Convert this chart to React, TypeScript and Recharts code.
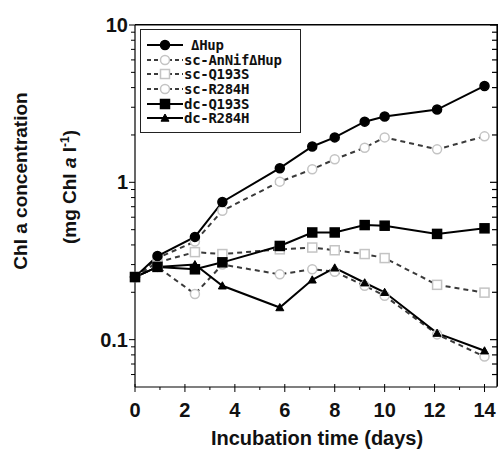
import React from 'react'
import { LineChart, Line, XAxis, YAxis, Label, ReferenceLine } from 'recharts'

// incubation days (x) and Chl a readings (mg Chl a / l) per strain
const days = [0, 0.9, 2.4, 3.5, 5.8, 7.1, 8, 9.2, 10, 12.1, 14]
const hup = [0.25, 0.34, 0.45, 0.75, 1.23, 1.69, 1.93, 2.43, 2.62, 2.9, 4.1]
const scAnNifHup = [0.25, 0.33, 0.42, 0.66, 1.01, 1.21, 1.4, 1.66, 1.93, 1.62, 1.96]
const scQ193S = [0.25, 0.31, 0.36, 0.35, 0.375, 0.385, 0.37, 0.35, 0.33, 0.223, 0.199]
const scR284H = [0.25, 0.29, 0.195, 0.3, 0.26, 0.28, 0.27, 0.22, 0.19, 0.108, 0.078]
const dcQ193S = [0.25, 0.29, 0.28, 0.31, 0.394, 0.48, 0.48, 0.535, 0.53, 0.47, 0.51]
const dcR284H = [0.25, 0.29, 0.3, 0.22, 0.16, 0.24, 0.286, 0.23, 0.2, 0.11, 0.085]

const xTicks = [0, 1, 2, 3, 4, 5, 6, 7, 8, 9, 10, 11, 12, 13, 14]
const xLabels = [0, 2, 4, 6, 8, 10, 12, 14]
const yTicks = [0.06, 0.07, 0.08, 0.09, 0.1, 0.2, 0.3, 0.4, 0.5, 0.6, 0.7, 0.8, 0.9, 1, 2, 3, 4, 5, 6, 7, 8, 9, 10]
const yLabels = [0.1, 1, 10]
const X_MAX = 14.5
const Y_MIN = 0.05
const Y_MAX = 10

type Shape = 'circle' | 'square' | 'triangle'

interface SeriesDef {
  key: string
  name: string
  values: number[]
  shape: Shape
  filled: boolean
  dashed: boolean
}

const series: SeriesDef[] = [
  { key: 'scR', name: 'sc-R284H', values: scR284H, shape: 'circle', filled: false, dashed: true },
  { key: 'scQ', name: 'sc-Q193S', values: scQ193S, shape: 'square', filled: false, dashed: true },
  { key: 'scA', name: 'sc-AnNif\u0394Hup', values: scAnNifHup, shape: 'circle', filled: false, dashed: true },
  { key: 'dcR', name: 'dc-R284H', values: dcR284H, shape: 'triangle', filled: true, dashed: false },
  { key: 'dcQ', name: 'dc-Q193S', values: dcQ193S, shape: 'square', filled: true, dashed: false },
  { key: 'hup', name: '\u0394Hup', values: hup, shape: 'circle', filled: true, dashed: false },
]
const legendOrder = ['hup', 'scA', 'scQ', 'scR', 'dcQ', 'dcR']

const data = days.map((d, i) => {
  const row: Record<string, number> = { day: d }
  series.forEach((s) => { row[s.key] = s.values[i] })
  return row
})

const LIGHT = '#c4c4c4'
const DASH = '#3a3a3a'
const PLOT = { left: 135, top: 25, right: 497, bottom: 387 }

const Marker = ({ cx, cy, shape, filled }: { cx: number; cy: number; shape: Shape; filled: boolean }) => {
  const fill = filled ? '#000' : '#fff'
  const stroke = filled ? '#000' : LIGHT
  if (shape === 'square') {
    const s = 4.5
    return <rect x={cx - s} y={cy - s} width={s * 2} height={s * 2} fill={fill} stroke={stroke} strokeWidth={1.5} />
  }
  if (shape === 'triangle') {
    const s = 4
    return <polygon points={`${cx},${cy - s} ${cx - s},${cy + s * 0.8} ${cx + s},${cy + s * 0.8}`} fill={fill} stroke={stroke} strokeWidth={1} />
  }
  return <circle cx={cx} cy={cy} r={4.5} fill={fill} stroke={stroke} strokeWidth={1.5} />
}

const makeDot = (s: SeriesDef) => (props: any) => (
  <Marker key={`${s.key}-${props.index}`} cx={props.cx} cy={props.cy} shape={s.shape} filled={s.filled} />
)

const tickFont = { fontFamily: 'Liberation Sans, Arial, sans-serif', fontWeight: 700, fontSize: 20, fill: '#111' }

// left ticks + labels, and the inward ticks on the right frame at the same heights
const LeftTick = (props: any) => {
  const { x, y, payload } = props
  const major = yLabels.includes(payload.value)
  const len = major ? 6 : 4
  return (
    <g>
      <line x1={x} x2={x - len} y1={y} y2={y} stroke='#000' strokeWidth={1} />
      <line x1={PLOT.right} x2={PLOT.right - len - 1} y1={y} y2={y} stroke='#000' strokeWidth={1.2} />
      {major && (
        <text x={x - 7} y={y + 7} textAnchor='end' {...tickFont}>{payload.value}</text>
      )}
    </g>
  )
}

const BottomTick = (props: any) => {
  const { x, y, payload } = props
  const major = xLabels.includes(payload.value)
  return (
    <g>
      <line x1={x} x2={x} y1={y - (major ? 3 : 0)} y2={y + (major ? 5 : 3)} stroke='#000' strokeWidth={1} />
      {major && (
        <text x={x} y={y + 30} textAnchor='middle' {...tickFont}>{payload.value}</text>
      )}
    </g>
  )
}

const YTitle = () => {
  const f = { fontFamily: 'Liberation Sans, Arial, sans-serif', fontWeight: 700, fontSize: 19, fill: '#111' }
  return (
    <g>
      <text transform='translate(27,181) rotate(-90)' textAnchor='middle' {...f}>Chl a concentration</text>
      <text transform='translate(76,187) rotate(-90)' textAnchor='middle' {...f}>
        (mg Chl <tspan fontStyle='italic'>a</tspan> l<tspan dy={-7} fontSize={12}>-1</tspan><tspan dy={7}>)</tspan>
      </text>
    </g>
  )
}

const LegendBox = () => (
  <div style={{ position: 'absolute', left: 140, top: 29, boxSizing: 'border-box', width: 161, height: 104, border: '1.5px solid #222', background: '#fff', padding: '8px 0 0 6px' }}>
    {legendOrder.map((k) => {
      const s = series.find((x) => x.key === k)!
      return (
        <div key={k} style={{ display: 'flex', alignItems: 'center', height: 14.6, overflow: 'visible' }}>
          <svg width={36} height={14} style={{ flex: 'none' }}>
            <line x1={0} x2={36} y1={7} y2={7} stroke={s.dashed ? DASH : '#000'} strokeWidth={2} strokeDasharray={s.dashed ? '4 3' : undefined} />
            <Marker cx={18} cy={7} shape={s.shape} filled={s.filled} />
          </svg>
          <span style={{ fontFamily: 'DejaVu Sans Mono, monospace', fontSize: 14, fontWeight: 700, color: '#111', marginLeft: k === 'hup' ? 8 : 1, lineHeight: '14px', whiteSpace: 'nowrap', letterSpacing: -0.3 }}>
            {s.name}
          </span>
        </div>
      )
    })}
  </div>
)

// top and right edges of the plot frame
const Frame = () => (
  <div style={{
    position: 'absolute', left: PLOT.left, top: PLOT.top - 1, width: PLOT.right - PLOT.left + 1,
    height: PLOT.bottom - PLOT.top, boxSizing: 'border-box',
    borderTop: '1.5px solid #000', borderRight: '1.5px solid #000', pointerEvents: 'none',
  }} />
)

const App = () => {
  return (
    <div style={{ position: 'absolute', left: 0, top: 0, width: 501, height: 450, background: '#fff' }}>
      <LineChart width={501} height={450} data={data} margin={{ top: 25, right: 4, bottom: 0, left: 0 }}>
        <XAxis dataKey='day' type='number' domain={[0, X_MAX]} ticks={xTicks} interval={0}
          tickSize={0} tickMargin={0} tickLine={false} tick={<BottomTick />} height={63}
          axisLine={{ stroke: '#000', strokeWidth: 1.2 }}>
          <Label content={() => (
            <text x={317} y={445} textAnchor='middle' {...tickFont}>Incubation time (days)</text>
          )} />
        </XAxis>
        <YAxis scale='log' domain={[Y_MIN, Y_MAX]} allowDataOverflow ticks={yTicks} interval={0} width={135}
          tickSize={0} tickMargin={0} tickLine={false} tick={<LeftTick />}
          axisLine={{ stroke: '#000', strokeWidth: 1.2 }}>
          <Label content={() => <YTitle />} />
        </YAxis>
        <ReferenceLine y={Y_MAX} stroke='#000' strokeWidth={1.2} ifOverflow='visible' />
        <ReferenceLine x={X_MAX} stroke='#000' strokeWidth={1.2} ifOverflow='visible' />
        {series.map((s) => (
          <Line key={s.key} dataKey={s.key} name={s.name} type='linear'
            stroke={s.dashed ? DASH : '#000'} strokeWidth={2} strokeDasharray={s.dashed ? '5 4' : undefined}
            dot={makeDot(s)} activeDot={false} isAnimationActive={false} />
        ))}
      </LineChart>
      <Frame />
      <LegendBox />
    </div>
  )
}

export default App
